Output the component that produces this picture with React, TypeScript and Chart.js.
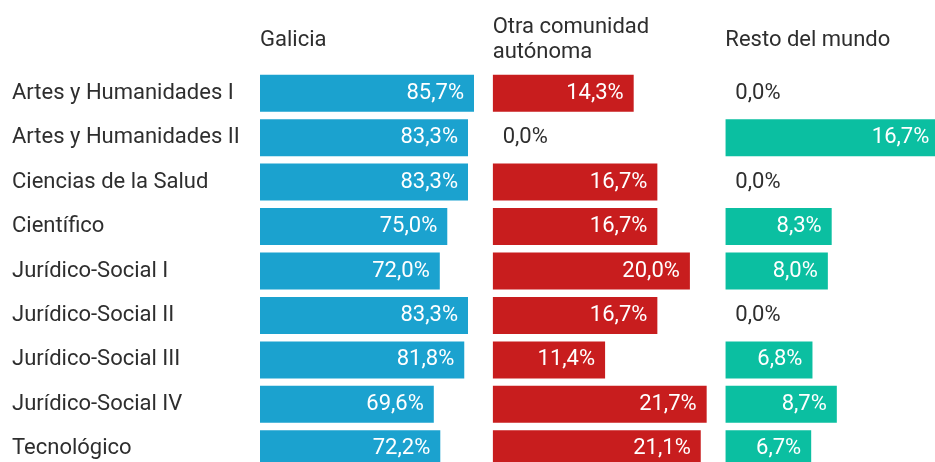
import React, { useEffect, useRef } from 'react';
import { Chart, registerables } from 'chart.js';

Chart.register(...registerables);

const categories = [
  'Artes y Humanidades I',
  'Artes y Humanidades II',
  'Ciencias de la Salud',
  'Científico',
  'Jurídico-Social I',
  'Jurídico-Social II',
  'Jurídico-Social III',
  'Jurídico-Social IV',
  'Tecnológico',
];

const galicia = [85.7, 83.3, 83.3, 75.0, 72.0, 83.3, 81.8, 69.6, 72.2];
const otraComunidad = [14.3, 0.0, 16.7, 16.7, 20.0, 16.7, 11.4, 21.7, 21.1];
const restoMundo = [0.0, 16.7, 0.0, 8.3, 8.0, 0.0, 6.8, 8.7, 6.7];

const columnTitles = [['Galicia'], ['Otra comunidad', 'autónoma'], ['Resto del mundo']];
const seriesNames = ['Galicia', 'Otra comunidad autónoma', 'Resto del mundo'];
const colors = ['#1ba2cf', '#c81d1e', '#0bbfa1'];

const W = 958;
const H = 471;
const LEFT = 260;
const LABEL_X = 12;
const HEADER_H = 71;
const FONT = 'Roboto';
const FONT_SIZE = 22;
const TEXT = '#2e2e2e';

export default function App() {
  const ref = useRef<HTMLCanvasElement>(null);

  useEffect(() => {
    const canvas = ref.current;
    if (!canvas) return;

    const series = [galicia, otraComunidad, restoMundo];
    const axisIds = ['xG', 'xO', 'xR'];
    const colPitch = (W - LEFT) / 3;
    const fill = 214;

    const scales: any = {
      y: {
        type: 'category',
        position: 'left',
        grid: { display: false, drawTicks: false },
        border: { display: false },
        ticks: {
          crossAlign: 'far',
          padding: 0,
          color: TEXT,
          font: { family: FONT, size: FONT_SIZE },
        },
        afterFit: (s: any) => {
          s.width = LEFT - LABEL_X;
          s.paddingTop = 0;
          s.paddingBottom = 0;
        },
      },
    };
    axisIds.forEach((id, i) => {
      scales[id] = {
        type: 'linear',
        position: 'top',
        stack: 'cols',
        stackWeight: 1,
        weight: 3 - i,
        min: 0,
        max: (Math.max(...series[i]) * colPitch) / fill,
        grid: { display: false, drawTicks: false },
        border: { display: false },
        ticks: { display: false },
        afterFit: (s: any) => {
          s.height = HEADER_H;
          s.paddingLeft = 0;
          s.paddingRight = 0;
        },
        title: {
          display: true,
          text: columnTitles[i],
          align: 'start',
          color: TEXT,
          font: { family: FONT, size: FONT_SIZE, lineHeight: 25 / 22 },
          padding: columnTitles[i].length > 1 ? { top: 14.5, bottom: 6.5 } : { top: 27.5, bottom: 18.5 },
        },
      };
    });

    const valueLabels = {
      id: 'valueLabels',
      afterDatasetsDraw(chart: any) {
        const ctx = chart.ctx;
        ctx.save();
        ctx.font = `${FONT_SIZE}px ${FONT}`;
        ctx.textBaseline = 'middle';
        chart.data.datasets.forEach((ds: any, di: number) => {
          const meta = chart.getDatasetMeta(di);
          meta.data.forEach((bar: any, j: number) => {
            const v = ds.data[j] as number;
            const txt = v.toFixed(1).replace('.', ',') + '%';
            if (v > 0) {
              ctx.fillStyle = '#ffffff';
              ctx.textAlign = 'right';
              ctx.fillText(txt, bar.x - 10, bar.y);
            } else {
              ctx.fillStyle = TEXT;
              ctx.textAlign = 'left';
              ctx.fillText(txt, bar.base + 10, bar.y);
            }
          });
        });
        ctx.restore();
      },
    };

    const chart = new Chart(canvas, {
      type: 'bar',
      data: {
        labels: categories,
        datasets: series.map((d, i) => ({
          label: seriesNames[i],
          data: d,
          backgroundColor: colors[i],
          borderWidth: 0,
          xAxisID: axisIds[i],
          yAxisID: 'y',
          grouped: false,
          barPercentage: 0.833,
          categoryPercentage: 1,
        })),
      },
      options: {
        indexAxis: 'y',
        animation: false,
        responsive: false,
        maintainAspectRatio: false,
        layout: { padding: { left: LABEL_X, top: 0, right: 0, bottom: 0 } },
        plugins: {
          legend: { display: false },
          tooltip: { enabled: false },
          title: { display: false },
        },
        scales,
      },
      plugins: [valueLabels],
    } as any);

    return () => chart.destroy();
  }, []);

  return (
    <div
      style={{
        position: 'absolute',
        left: 0,
        top: 0,
        width: 935,
        height: 462,
        overflow: 'hidden',
        background: '#ffffff',
      }}
    >
      <canvas ref={ref} width={W} height={H} style={{ width: W, height: H, display: 'block' }} />
    </div>
  );
}
